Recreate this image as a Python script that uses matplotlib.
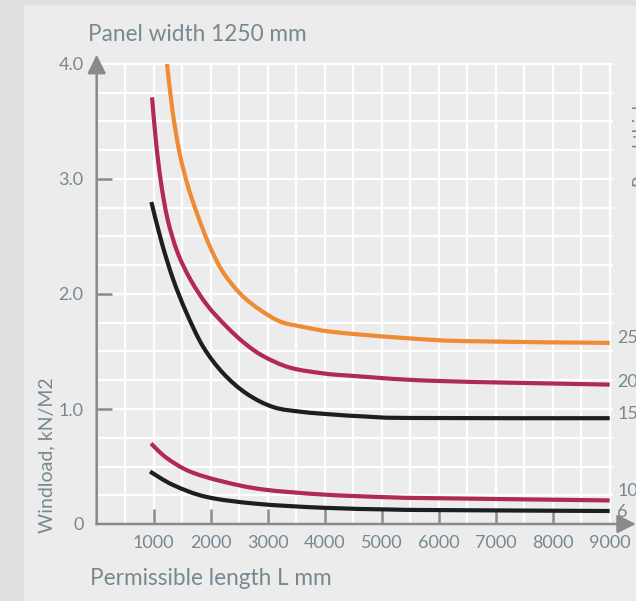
import matplotlib
matplotlib.use("Agg")
import matplotlib.pyplot as plt
from matplotlib.patches import Rectangle, PathPatch
from matplotlib.path import Path

# Data: permissible length (mm) vs windload (kN/m2)
x_25 = [1233, 1331, 1448, 1593, 1767, 1971, 2203, 2523, 2872, 3221, 3561, 4146, 5316, 6485, 9000]
y_25 = [4.00, 3.59, 3.24, 2.95, 2.69, 2.43, 2.20, 2.00, 1.86, 1.76, 1.72, 1.67, 1.62, 1.59, 1.575]

x_20 = [971, 1041, 1128, 1244, 1419, 1651, 1942, 2291, 2600, 2921, 3388, 3972, 4439, 5900, 9000]
y_20 = [3.71, 3.32, 2.97, 2.65, 2.36, 2.12, 1.90, 1.71, 1.57, 1.46, 1.36, 1.31, 1.29, 1.245, 1.212]

x_15 = [959, 1139, 1343, 1577, 1869, 2220, 2629, 3096, 3600, 4146, 4700, 5500, 9000]
y_15 = [2.80, 2.45, 2.125, 1.834, 1.54, 1.31, 1.134, 1.017, 0.975, 0.952, 0.935, 0.922, 0.92]

x_10 = [953, 1228, 1637, 2222, 2924, 3977, 5146, 6000, 9000]
y_10 = [0.70, 0.574, 0.456, 0.368, 0.30, 0.256, 0.232, 0.224, 0.205]

x_6 = [936, 1345, 1930, 2807, 3977, 5146, 6000, 9000]
y_6 = [0.456, 0.338, 0.235, 0.176, 0.141, 0.126, 0.121, 0.113]

series_labels = ["25", "20", "15", "10", "6"]
series_colors = ["#ee8b33", "#b02a53", "#1b1f22", "#b02a53", "#1b1f22"]

x_ticks = [1000, 2000, 3000, 4000, 5000, 6000, 7000, 8000, 9000]
y_ticks = [0, 1, 2, 3, 4]
y_tick_labels = ["0", "1.0", "2.0", "3.0", "4.0"]

# style
font = "Lato"
txt_color = "#788890"
axis_grey = "#8a8a8a"
panel_bg = "#ececec"
strip_bg = "#dfe1e0"


def smooth_path(xs, ys):
    # bezier path through the read points (catmull-rom style handles)
    pts = list(zip(xs, ys))
    verts = [pts[0]]
    codes = [Path.MOVETO]
    n = len(pts)
    for i in range(n - 1):
        p0 = pts[i - 1] if i > 0 else pts[i]
        p1 = pts[i]
        p2 = pts[i + 1]
        p3 = pts[i + 2] if i + 2 < n else pts[i + 1]
        c1 = (p1[0] + (p2[0] - p0[0]) / 6, p1[1] + (p2[1] - p0[1]) / 6)
        c2 = (p2[0] - (p3[0] - p1[0]) / 6, p2[1] - (p3[1] - p1[1]) / 6)
        verts += [c1, c2, p2]
        codes += [Path.CURVE4] * 3
    return Path(verts, codes)


W, H = 636, 601
fig = plt.figure(figsize=(W / 100, H / 100), dpi=100)
fig.patch.set_facecolor(panel_bg)
fig.patches.append(Rectangle((0, 0), 23 / W, 1, transform=fig.transFigure, color=strip_bg, zorder=0))
fig.patches.append(Rectangle((0, 1 - 4 / H), 1, 4 / H, transform=fig.transFigure, color=strip_bg, zorder=0))

ax = fig.add_axes([96.7 / W, 1 - 524 / H, 516.4 / W, 462.3 / H])
ax.set_facecolor(panel_bg)
ax.set_xlim(0, 9060)
ax.set_ylim(0, 4.02)
for s in ax.spines.values():
    s.set_visible(False)

# white grid every 500 mm / 0.25 kN
for gx in range(500, 9001, 500):
    ax.axvline(gx, ymax=4.0 / 4.02, color="white", lw=1.6, zorder=1)
for k in range(1, 17):
    ax.axhline(k * 0.25, xmax=9040 / 9060, color="white", lw=1.6, zorder=1)

# curves
all_x = [x_25, x_20, x_15, x_10, x_6]
all_y = [y_25, y_20, y_15, y_10, y_6]
for xs, ys, c in zip(all_x, all_y, series_colors):
    ax.add_patch(PathPatch(smooth_path(xs, ys), facecolor="none", edgecolor=c,
                           lw=3.0, capstyle="butt", joinstyle="round", zorder=3))

# end labels
label_y = [1.617, 1.235, 0.957, 0.287, 0.104]
for lab, ly in zip(series_labels, label_y):
    ax.text(9130, ly, lab, ha="left", va="center", fontsize=13, family=font,
            color=txt_color, clip_on=False)

# axes with arrowheads
arrow = dict(arrowstyle="-|>", color=axis_grey, lw=1.8, mutation_scale=28,
             shrinkA=0, shrinkB=0, capstyle="projecting")
ax.annotate("", xy=(0, 4.08), xytext=(0, 0), arrowprops=arrow, annotation_clip=False, zorder=4)
ax.annotate("", xy=(9460, 0), xytext=(0, 0), arrowprops=arrow, annotation_clip=False, zorder=4)

ax.set_xticks(x_ticks)
ax.set_xticklabels([str(v) for v in x_ticks])
ax.set_yticks(y_ticks)
ax.set_yticklabels(y_tick_labels)
ax.tick_params(direction="in", length=10.8, width=1.8, color=axis_grey,
               labelsize=13, labelcolor=txt_color)
ax.tick_params(axis="x", pad=8)
ax.tick_params(axis="y", pad=9.5)
for lab in ax.get_xticklabels() + ax.get_yticklabels():
    lab.set_family(font)
ax.yaxis.get_major_ticks()[0].tick1line.set_visible(False)
ax.yaxis.get_major_ticks()[-1].tick1line.set_visible(False)
ax.xaxis.get_major_ticks()[-1].tick1line.set_visible(False)

# titles
fig.text(88 / W, 1 - 41 / H, "Panel width 1250 mm", fontsize=16.3, family=font,
         color=txt_color, va="baseline", ha="left")
fig.text(90 / W, 1 - 585 / H, "Permissible length L mm", fontsize=16.3, family=font,
         color=txt_color, va="baseline", ha="left")
fig.text(47 / W, 1 - 533 / H, "Windload, kN/M2", fontsize=14, family=font,
         color=txt_color, rotation=90, ha="center", va="bottom")
fig.text(633 / W, 1 - 187 / H, "Panel thickness", fontsize=13, family=font,
         color=txt_color, rotation=90, ha="left", va="bottom")

fig.savefig("out.png", dpi=100, facecolor=fig.get_facecolor())
